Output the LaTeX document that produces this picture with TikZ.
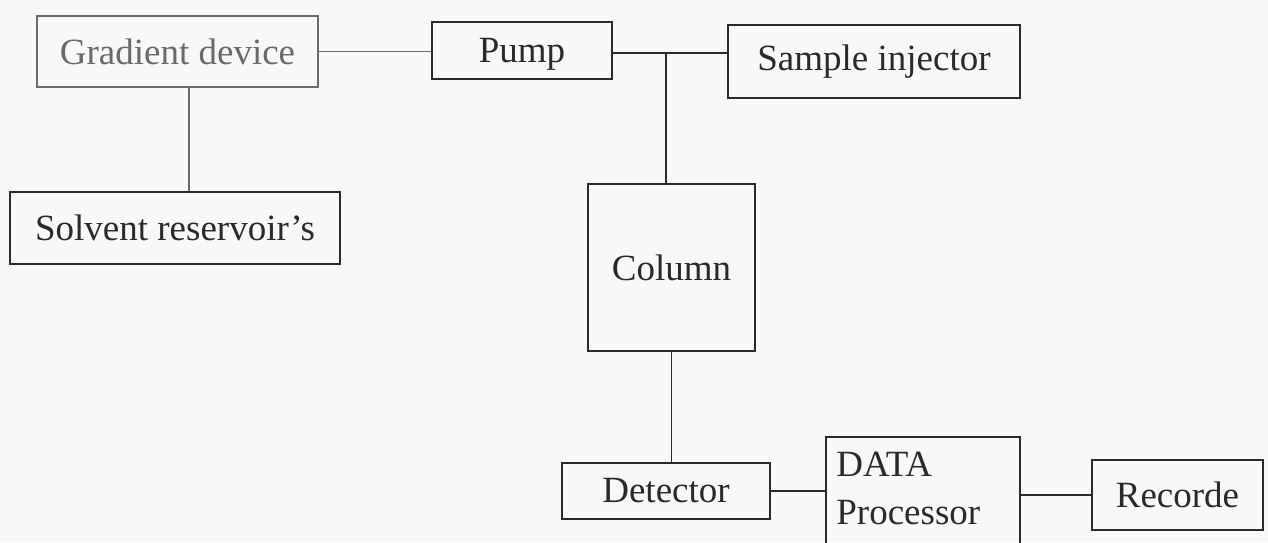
\documentclass[tikz,border=0pt]{standalone}
\usepackage{fontspec}
\setmainfont{Liberation Serif}
\definecolor{ink}{HTML}{2A2A2A}
\definecolor{faded}{HTML}{6A6A6A}
\definecolor{paper}{HTML}{F8F8F6}
\begin{document}
\begin{tikzpicture}[x=0.5pt,y=-0.5pt,
  box/.style={draw=ink, line width=0.85pt, inner sep=0pt, text=ink,
    font=\fontsize{18.5}{21}\selectfont},
  txt/.style={inner sep=0pt, text=ink, font=\fontsize{18.5}{24}\selectfont, align=left},
  link/.style={draw=ink, line width=0.75pt}]
\fill[paper] (0,0) rectangle (1268,542);
\useasboundingbox (0,0) rectangle (1268,542);
\clip (0,0) rectangle (1268,542);
\node[box, draw=faded, text=faded, minimum width=140.5pt, minimum height=35.5pt] (grad) at (177.5,51.5) {Gradient device};
\node[box, text depth=0pt, minimum width=90pt, minimum height=28.5pt] (pump) at (522,50.5) {Pump};
\node[box, minimum width=146pt, minimum height=36.5pt] (inj) at (874,61.5) {Sample injector};
\node[box, minimum width=165pt, minimum height=36pt] (solv) at (175,228) {Solvent reservoir's};
\node[box, minimum width=83.5pt, minimum height=83.5pt] (col) at (671.5,267.5) {Column};
\node[box, minimum width=104pt, minimum height=28pt] (det) at (666,491) {Detector};
\node[box, minimum width=97pt, minimum height=61.5pt] (data) at (923,498.5) {};
\node[txt, anchor=north west] (datatxt) at (836,452) {DATA\\Processor};
\node[box, minimum width=85.5pt, minimum height=35pt] (rec) at (1177.5,495) {Recorde};
\coordinate (j) at (666,53);
\coordinate (gx) at (189,0);
\draw[link, draw=faded] (grad.east) -- (grad.east -| pump.west);
\draw[link, draw=faded] (grad.south -| gx) -- (solv.north -| gx);
\draw[link] (pump.east |- j) -- (j) -- (inj.west |- j);
\draw[link] (j) -- (j |- col.north);
\draw[link] (col.south) -- (col.south |- det.north);
\draw[link] (det.east) -- (det.east -| data.west);
\draw[link] (rec.west -| data.east) -- (rec.west);
\end{tikzpicture}
\end{document}
